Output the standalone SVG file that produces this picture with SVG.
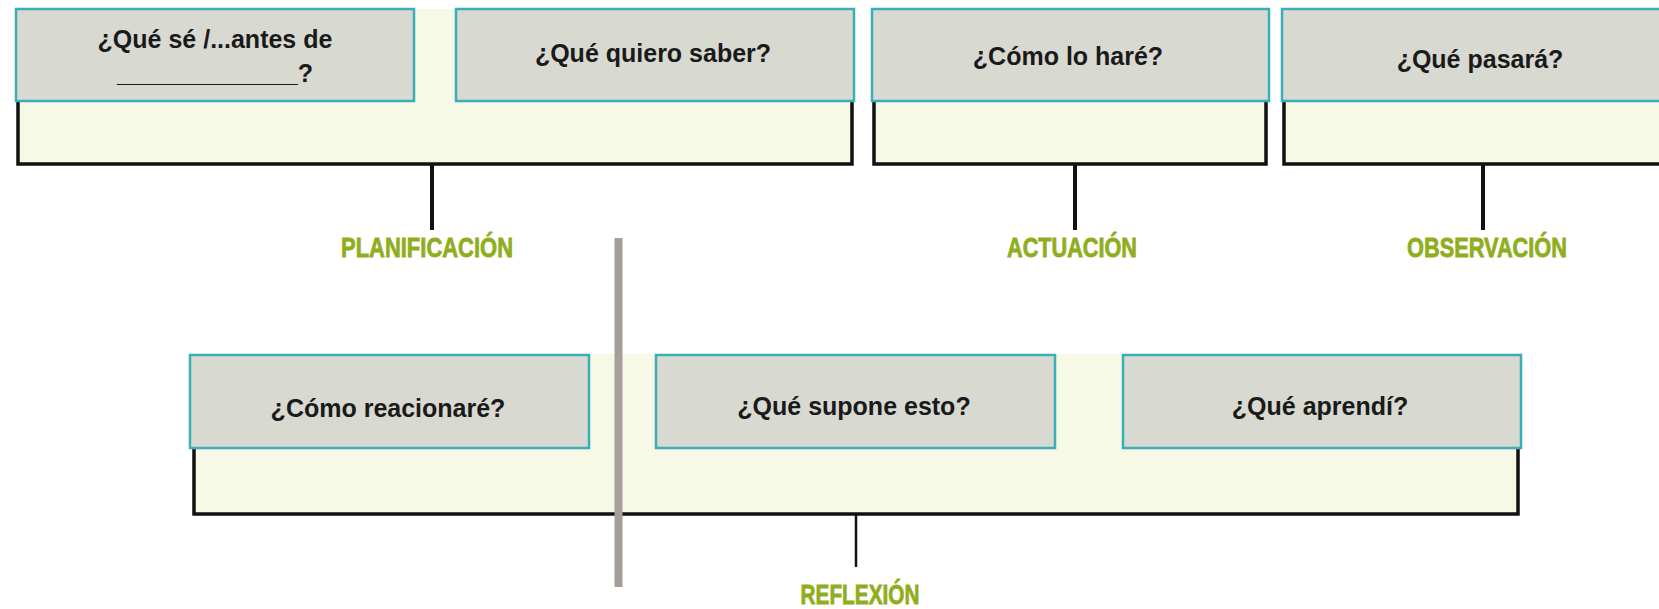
<svg xmlns="http://www.w3.org/2000/svg" width="1659" height="609" viewBox="0 0 1659 609">
<style>
.panel{fill:#F5F9E5;stroke:none}
.bracket{fill:none;stroke:#111;stroke-width:3.5;stroke-linejoin:miter}
.box{fill:#D8D9D0;stroke:#3AAFB8;stroke-width:2.5}
.q{font-family:"Liberation Sans",Arial,sans-serif;font-weight:bold;font-size:25px;fill:#1a1a1a;text-anchor:middle}
.lbl{font-family:"Liberation Sans",Arial,sans-serif;font-weight:bold;font-size:28px;fill:#8FAE1D;stroke:#8FAE1D;stroke-width:0.8;text-anchor:middle}
.conn{stroke:#111;stroke-width:4;fill:none}
</style>
<rect width="1659" height="609" fill="#fff"/>
<g id="panels">
<rect class="panel" x="17" y="9" width="836" height="155"/>
<rect class="panel" x="872" y="9" width="396" height="155"/>
<rect class="panel" x="1282" y="9" width="380" height="155"/>
<rect class="panel" x="192" y="354" width="1327" height="161"/>
<polyline class="bracket" points="18,101 18,164 852,164 852,101"/>
<polyline class="bracket" points="874,101 874,164 1266,164 1266,101"/>
<polyline class="bracket" points="1284,101 1284,164 1662,164"/>
<polyline class="bracket" points="194,448 194,514 1518,514 1518,448"/>
</g>
<g id="connectors">
<line class="conn" x1="432" y1="164" x2="432" y2="230"/>
<line class="conn" x1="1075" y1="164" x2="1075" y2="230"/>
<line class="conn" x1="1483" y1="164" x2="1483" y2="230"/>
<line class="conn" x1="856" y1="514" x2="856" y2="567" style="stroke-width:2.5"/>
<line x1="618.5" y1="238" x2="618.5" y2="587" stroke="#A89E99" stroke-width="8"/>
</g>
<g id="n1"><rect class="box" x="16" y="9" width="398" height="92"/>
<text class="q" x="215" y="48">¿Qué sé /...antes de</text>
<text class="q" x="215" y="82">_____________?</text></g>
<g id="n2"><rect class="box" x="456" y="9" width="398" height="92"/>
<text class="q" x="653" y="62">¿Qué quiero saber?</text></g>
<g id="n3"><rect class="box" x="872" y="9" width="397" height="92"/>
<text class="q" x="1068" y="65">¿Cómo lo haré?</text></g>
<g id="n4"><rect class="box" x="1282" y="9" width="400" height="92"/>
<text class="q" x="1480" y="68">¿Qué pasará?</text></g>
<g id="n5"><rect class="box" x="190" y="355" width="399" height="93"/>
<text class="q" x="388" y="417">¿Cómo reacionaré?</text></g>
<g id="n6"><rect class="box" x="656" y="355" width="399" height="93"/>
<text class="q" x="854" y="415">¿Qué supone esto?</text></g>
<g id="n7"><rect class="box" x="1123" y="355" width="398" height="93"/>
<text class="q" x="1320" y="415">¿Qué aprendí?</text></g>
<g id="labels">
<text class="lbl" x="427" y="257" textLength="172" lengthAdjust="spacingAndGlyphs">PLANIFICACIÓN</text>
<text class="lbl" x="1072" y="257" textLength="130" lengthAdjust="spacingAndGlyphs">ACTUACIÓN</text>
<text class="lbl" x="1487" y="257" textLength="160" lengthAdjust="spacingAndGlyphs">OBSERVACIÓN</text>
<text class="lbl" x="860" y="604" textLength="119" lengthAdjust="spacingAndGlyphs">REFLEXIÓN</text>
</g>
</svg>
